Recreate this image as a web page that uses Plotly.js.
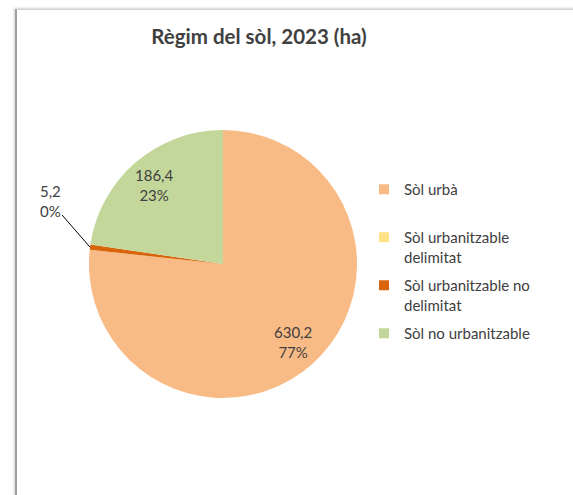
<!DOCTYPE html>
<html>
<head>
<meta charset="utf-8">
<script src="https://cdn.plot.ly/plotly-3.0.1.min.js"></script>
<style>
  html, body { margin: 0; padding: 0; background: #fff; overflow: hidden; }
  #frame {
    position: absolute; left: 15px; top: 9px; width: 600px; height: 520px;
    border-left: 2px solid #a0a0a0; border-top: 1px solid #d4d4d4;
    box-shadow: -1px -1px 2px rgba(0,0,0,0.18);
  }
  #chart { position: absolute; left: 0; top: 0; width: 573px; height: 495px; }
</style>
</head>
<body>
<div id="frame"></div>
<div id="chart"></div>
<script>
const labels = [
  "Sòl urbà<br> ",
  "Sòl urbanitzable<br>delimitat",
  "Sòl urbanitzable no<br>delimitat",
  "Sòl no urbanitzable"
];
const values = [630.2, 0, 5.2, 186.4];
const pctLabels = ["77%", "0%", "0%", "23%"];
const colors = ["#F9BB86", "#FFE285", "#D9650B", "#C4D79B"];
const insideLabelled = [0, 3];
const outsideLabelled = 2;

const W = 573, H = 495;
const cx = 223, cy = 264, r = 134;
const domainX = [(cx - r) / W, (cx + r) / W];
const domainY = [(H - cy - r) / H, (H - cy + r) / H];

const textColor = "#404040";
const font = "Lato, 'Open Sans', sans-serif";

const total = values.reduce((s, v) => s + v, 0);

function fmt(v) {
  return v.toFixed(1).replace(".", ",");
}

// point on the bisector of slice i, at distance k*r from the centre (paper coords)
function slicePoint(i, k) {
  const before = values.slice(0, i).reduce((s, v) => s + v, 0);
  const ang = ((before + values[i] / 2) / total) * 2 * Math.PI;
  return {
    x: (cx + k * r * Math.sin(ang)) / W,
    y: (H - (cy - k * r * Math.cos(ang))) / H
  };
}

const annotations = insideLabelled.map((i) => {
  const p = slicePoint(i, 0.78);
  return {
    xref: "paper", yref: "paper", x: p.x, y: p.y,
    xanchor: "center", yanchor: "middle",
    text: fmt(values[i]) + "<br>" + pctLabels[i],
    showarrow: false,
    font: { family: font, size: 15, color: textColor }
  };
});

const tip = slicePoint(outsideLabelled, 1);
annotations.push({
  xref: "paper", yref: "paper", x: tip.x, y: tip.y,
  text: fmt(values[outsideLabelled]) + "<br>" + pctLabels[outsideLabelled],
  showarrow: true, arrowhead: 0, arrowwidth: 1, arrowcolor: "#000",
  ax: -40, ay: -46,
  font: { family: font, size: 15, color: textColor },
  align: "left"
});

const pie = {
  type: "pie",
  labels: labels,
  values: values,
  sort: false,
  direction: "clockwise",
  rotation: 0,
  marker: { colors: colors, line: { width: 0 } },
  textinfo: "none",
  hoverinfo: "none",
  showlegend: false,
  domain: { x: domainX, y: domainY }
};

// legend entries as empty square-marker traces, so the gap between them can be set
const legendTraces = labels.map((lab, i) => ({
  type: "scatter",
  mode: "markers",
  x: [null], y: [null],
  name: lab,
  legendgroup: "g" + i,
  marker: { symbol: "square", size: 10, color: colors[i] },
  hoverinfo: "none"
}));

Plotly.newPlot("chart", [pie].concat(legendTraces), {
  width: W,
  height: H,
  margin: { l: 0, r: 0, t: 0, b: 0 },
  paper_bgcolor: "rgba(0,0,0,0)",
  plot_bgcolor: "rgba(0,0,0,0)",
  xaxis: { visible: false },
  yaxis: { visible: false },
  font: { family: font, color: textColor },
  title: {
    text: "<b>Règim del sòl, 2023 (ha)</b>",
    x: 259 / W, xanchor: "center",
    y: 1 - 37 / H, yanchor: "middle",
    font: { family: font, size: 20.5, color: textColor }
  },
  showlegend: true,
  legend: {
    x: 364 / W, xanchor: "left",
    y: 1 - 173 / H, yanchor: "top",
    valign: "top",
    traceorder: "grouped",
    tracegroupgap: 6,
    font: { family: font, size: 15, color: textColor },
    bgcolor: "rgba(0,0,0,0)"
  },
  annotations: annotations
}, { displayModeBar: false, staticPlot: true });
</script>
</body>
</html>
